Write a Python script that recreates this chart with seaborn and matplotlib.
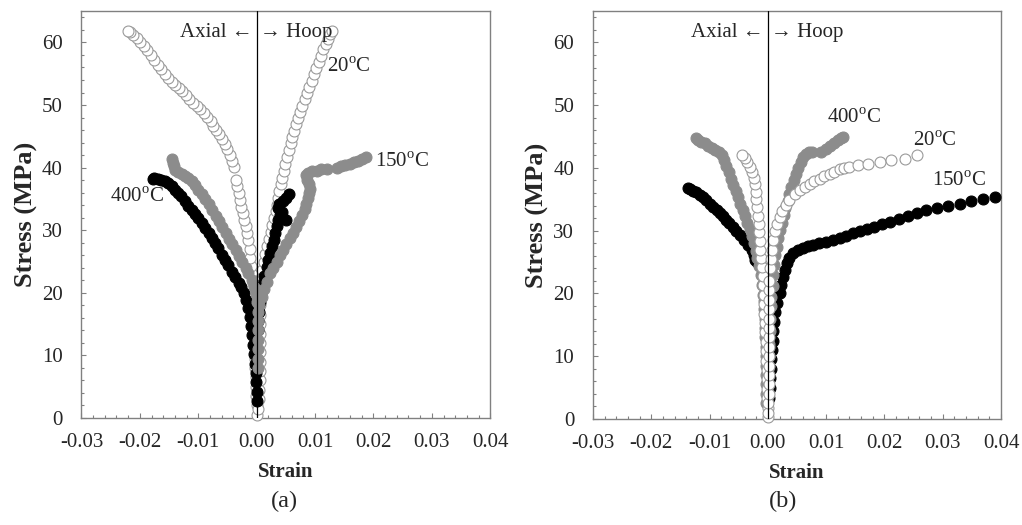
import pandas as pd
import seaborn as sns
import matplotlib.pyplot as plt
from matplotlib.ticker import MultipleLocator

# ---- panel (a) curves: (strain, stress MPa) ----
A20_AXIAL = [(0.0000, 0.5), (0.0000, 2.0), (-0.0001, 3.5), (-0.0001, 5.0), (-0.0001, 6.5), (-0.0002, 8.0),
             (-0.0002, 9.5), (-0.0002, 11.0), (-0.0003, 12.5), (-0.0003, 14.0), (-0.0004, 15.5), (-0.0004, 17.0),
             (-0.0005, 18.5), (-0.0006, 20.0), (-0.0007, 21.5), (-0.0008, 23.0), (-0.0009, 24.3), (-0.0011, 25.6),
             (-0.0012, 27.0), (-0.0014, 28.4), (-0.0016, 29.5), (-0.0018, 30.6), (-0.0021, 31.7), (-0.0023, 32.7),
             (-0.0026, 33.7), (-0.0028, 34.8), (-0.0030, 35.9), (-0.0033, 37.0), (-0.0035, 38.0), (-0.0039, 40.1),
             (-0.0042, 41.1), (-0.0046, 42.0), (-0.0050, 42.9), (-0.0054, 43.7), (-0.0059, 44.5), (-0.0064, 45.3),
             (-0.0069, 46.0), (-0.0074, 46.7), (-0.0079, 47.4), (-0.0085, 48.1), (-0.0091, 48.7), (-0.0097, 49.3),
             (-0.0103, 49.8), (-0.0109, 50.4), (-0.0115, 51.0), (-0.0121, 51.6), (-0.0127, 52.2), (-0.0133, 52.7),
             (-0.0139, 53.2), (-0.0145, 53.7), (-0.0151, 54.3), (-0.0157, 55.0), (-0.0163, 55.7), (-0.0169, 56.4),
             (-0.0175, 57.2), (-0.0181, 58.0), (-0.0187, 58.8), (-0.0193, 59.5), (-0.0199, 60.1), (-0.0205, 60.7),
             (-0.0211, 61.2), (-0.0217, 61.6), (-0.0220, 61.8)]
A20_HOOP = [(0.0003, 1.5), (0.0004, 3.0), (0.0004, 4.5), (0.0005, 6.0), (0.0005, 7.5), (0.0005, 9.0),
            (0.0005, 10.5), (0.0005, 12.0), (0.0005, 13.5), (0.0005, 15.0), (0.0005, 16.5), (0.0005, 18.0),
            (0.0006, 19.5), (0.0007, 21.0), (0.0008, 22.4), (0.0010, 23.7), (0.0012, 25.0), (0.0015, 26.2),
            (0.0018, 27.4), (0.0021, 28.6), (0.0024, 29.7), (0.0027, 30.8), (0.0030, 31.9), (0.0033, 33.0),
            (0.0035, 34.1), (0.0037, 35.2), (0.0039, 36.3), (0.0041, 37.4), (0.0043, 38.4), (0.0046, 39.5),
            (0.0049, 40.6), (0.0052, 41.7), (0.0055, 42.8), (0.0058, 43.9), (0.0061, 44.9), (0.0064, 45.9),
            (0.0067, 46.9), (0.0070, 47.9), (0.0074, 48.9), (0.0078, 49.9), (0.0082, 50.9), (0.0086, 51.9),
            (0.0090, 52.9), (0.0094, 53.9), (0.0098, 54.9), (0.0102, 55.9), (0.0106, 56.9), (0.0110, 57.9),
            (0.0114, 58.9), (0.0118, 59.8), (0.0122, 60.6), (0.0126, 61.3), (0.0129, 61.8)]
A150_AXIAL = [(0.0002, 8.0), (0.0002, 9.5), (0.0002, 11.0), (0.0002, 12.5), (0.0002, 14.0), (0.0002, 15.5),
              (0.0002, 17.0), (0.0001, 18.5), (-0.0001, 19.8), (-0.0004, 21.0), (-0.0008, 22.0), (-0.0014, 23.1),
              (-0.0019, 24.0), (-0.0025, 25.0), (-0.0030, 25.9), (-0.0036, 26.8), (-0.0042, 27.8), (-0.0047, 28.6),
              (-0.0053, 29.6), (-0.0059, 30.5), (-0.0065, 31.5), (-0.0070, 32.3), (-0.0076, 33.2), (-0.0082, 34.2),
              (-0.0088, 35.0), (-0.0094, 35.8), (-0.0100, 36.5), (-0.0105, 37.2), (-0.0111, 37.8), (-0.0117, 38.3),
              (-0.0122, 38.7), (-0.0128, 39.0), (-0.0134, 39.3), (-0.0139, 39.6), (-0.0142, 40.2), (-0.0144, 40.8),
              (-0.0145, 41.4)]
A150_HOOP = [(0.0004, 18.0), (0.0009, 19.3), (0.0013, 20.6), (0.0018, 21.8), (0.0023, 23.1), (0.0028, 24.0),
             (0.0034, 25.0), (0.0040, 26.0), (0.0045, 26.8), (0.0051, 27.8), (0.0057, 28.7), (0.0062, 29.6),
             (0.0068, 30.5), (0.0073, 31.5), (0.0078, 32.5), (0.0082, 33.4), (0.0085, 34.2), (0.0088, 35.1),
             (0.0090, 35.9), (0.0091, 36.6), (0.0089, 37.4), (0.0086, 38.1), (0.0084, 38.8), (0.0088, 39.2),
             (0.0095, 39.4), (0.0103, 39.5), (0.0111, 39.7), (0.0120, 39.8), (0.0138, 40.0), (0.0145, 40.2),
             (0.0152, 40.4), (0.0160, 40.6), (0.0167, 40.9), (0.0174, 41.1), (0.0181, 41.4), (0.0188, 41.7)]
A400_AXIAL = [(0.0000, 2.7), (0.0000, 4.2), (-0.0001, 5.7), (-0.0001, 7.2), (-0.0002, 8.7), (-0.0004, 10.2),
              (-0.0006, 11.7), (-0.0008, 13.2), (-0.0010, 14.7), (-0.0012, 16.2), (-0.0015, 17.6), (-0.0018, 18.9),
              (-0.0022, 20.0), (-0.0026, 20.9), (-0.0031, 21.6), (-0.0037, 22.5), (-0.0043, 23.4), (-0.0049, 24.4),
              (-0.0054, 25.2), (-0.0060, 26.1), (-0.0066, 27.1), (-0.0071, 27.9), (-0.0077, 28.8), (-0.0082, 29.5),
              (-0.0088, 30.3), (-0.0094, 31.1), (-0.0100, 31.9), (-0.0106, 32.6), (-0.0111, 33.2), (-0.0117, 33.9),
              (-0.0123, 34.7), (-0.0129, 35.4), (-0.0134, 35.9), (-0.0139, 36.4), (-0.0145, 37.0), (-0.0151, 37.5),
              (-0.0157, 37.9), (-0.0163, 38.1), (-0.0169, 38.2), (-0.0175, 38.3), (-0.0178, 38.2)]
A400_HOOP = [(0.0002, 14.0), (0.0003, 15.5), (0.0004, 17.0), (0.0005, 18.5), (0.0007, 20.0), (0.0010, 21.4),
             (0.0013, 22.7), (0.0017, 24.1), (0.0020, 25.2), (0.0023, 26.3), (0.0026, 27.4), (0.0029, 28.5),
             (0.0031, 29.6), (0.0034, 30.6), (0.0037, 31.6), (0.0040, 32.4), (0.0045, 31.9), (0.0050, 31.7),
             (0.0044, 32.9), (0.0037, 33.5), (0.0039, 34.2), (0.0045, 34.7), (0.0050, 35.2), (0.0055, 35.8)]

# ---- panel (b) curves ----
B20_AXIAL = [(0.0000, 0.3), (0.0000, 1.8), (-0.0001, 3.3), (-0.0001, 4.8), (-0.0002, 6.3), (-0.0002, 7.8),
             (-0.0003, 9.3), (-0.0003, 10.8), (-0.0004, 12.3), (-0.0005, 13.8), (-0.0005, 15.3), (-0.0006, 16.8),
             (-0.0007, 18.3), (-0.0007, 19.8), (-0.0008, 21.3), (-0.0009, 22.8), (-0.0010, 24.2), (-0.0012, 25.6),
             (-0.0013, 27.0), (-0.0014, 28.4), (-0.0015, 29.8), (-0.0016, 31.1), (-0.0017, 32.4), (-0.0019, 33.7),
             (-0.0020, 35.0), (-0.0021, 36.2), (-0.0022, 37.4), (-0.0024, 38.4), (-0.0027, 39.3), (-0.0031, 40.2),
             (-0.0035, 41.0), (-0.0040, 41.6), (-0.0045, 42.0)]
B20_HOOP = [(0.0001, 1.0), (0.0001, 2.5), (0.0002, 4.0), (0.0002, 5.5), (0.0002, 7.0), (0.0002, 8.5),
            (0.0002, 10.0), (0.0002, 11.5), (0.0002, 13.0), (0.0002, 14.5), (0.0002, 16.0), (0.0002, 17.5),
            (0.0002, 19.0), (0.0002, 20.5), (0.0002, 22.0), (0.0003, 24.0), (0.0005, 25.5), (0.0007, 27.0),
            (0.0009, 28.5), (0.0012, 29.9), (0.0016, 31.1), (0.0020, 32.2), (0.0025, 33.2), (0.0031, 34.1),
            (0.0037, 34.9), (0.0046, 35.8), (0.0055, 36.5), (0.0063, 37.0), (0.0072, 37.5), (0.0080, 37.9),
            (0.0089, 38.3), (0.0097, 38.7), (0.0106, 39.1), (0.0114, 39.4), (0.0123, 39.8), (0.0131, 40.0),
            (0.0140, 40.2), (0.0155, 40.4), (0.0172, 40.7), (0.0192, 41.0), (0.0212, 41.2), (0.0235, 41.5),
            (0.0255, 42.0)]
B150_AXIAL = [(0.0000, 3.3), (0.0000, 4.8), (0.0000, 6.3), (0.0000, 7.8), (0.0000, 9.3), (0.0000, 10.8),
              (0.0000, 12.3), (0.0000, 13.8), (0.0000, 15.3), (-0.0001, 16.8), (-0.0001, 18.3), (-0.0002, 19.8),
              (-0.0004, 21.3), (-0.0006, 22.8), (-0.0009, 24.1), (-0.0014, 24.6), (-0.0019, 25.0), (-0.0022, 25.4),
              (-0.0024, 26.2), (-0.0028, 27.0), (-0.0034, 27.7), (-0.0041, 28.5), (-0.0048, 29.3), (-0.0054, 30.0),
              (-0.0060, 30.6), (-0.0066, 31.2), (-0.0071, 31.7), (-0.0077, 32.3), (-0.0082, 32.8), (-0.0088, 33.3),
              (-0.0094, 33.8), (-0.0100, 34.3), (-0.0106, 34.9), (-0.0112, 35.4), (-0.0117, 35.7), (-0.0123, 36.1),
              (-0.0128, 36.4), (-0.0133, 36.6), (-0.0137, 36.8)]
B150_HOOP = [(0.0002, 3.3), (0.0003, 5.0), (0.0004, 6.5), (0.0005, 8.0), (0.0006, 9.5), (0.0007, 11.0),
             (0.0008, 12.5), (0.0009, 14.0), (0.0010, 15.5), (0.0012, 17.0), (0.0015, 18.5), (0.0020, 20.0),
             (0.0023, 21.4), (0.0026, 22.7), (0.0029, 23.8), (0.0032, 24.8), (0.0037, 25.7), (0.0043, 26.4),
             (0.0051, 26.9), (0.0060, 27.2), (0.0068, 27.5), (0.0077, 27.7), (0.0088, 28.0), (0.0100, 28.2),
             (0.0111, 28.5), (0.0123, 28.8), (0.0134, 29.2), (0.0146, 29.6), (0.0158, 30.0), (0.0170, 30.3),
             (0.0182, 30.6), (0.0196, 31.0), (0.0210, 31.4), (0.0225, 31.9), (0.0240, 32.4), (0.0255, 32.9),
             (0.0272, 33.3), (0.0290, 33.6), (0.0309, 34.0), (0.0329, 34.3), (0.0349, 34.7), (0.0369, 35.1),
             (0.0390, 35.4)]
B400_AXIAL = [(-0.0004, 2.5), (-0.0004, 4.0), (-0.0004, 5.5), (-0.0004, 7.0), (-0.0004, 8.5), (-0.0004, 10.0),
              (-0.0004, 11.5), (-0.0005, 13.0), (-0.0005, 14.5), (-0.0005, 16.0), (-0.0006, 17.5), (-0.0007, 18.8),
              (-0.0008, 19.8), (-0.0010, 21.3), (-0.0012, 22.9), (-0.0015, 24.3), (-0.0018, 25.6), (-0.0021, 26.8),
              (-0.0024, 28.0), (-0.0028, 29.2), (-0.0031, 30.2), (-0.0035, 31.3), (-0.0039, 32.3), (-0.0043, 33.3),
              (-0.0047, 34.3), (-0.0051, 35.3), (-0.0055, 36.3), (-0.0059, 37.3), (-0.0063, 38.3), (-0.0067, 39.3),
              (-0.0071, 40.3), (-0.0075, 41.3), (-0.0079, 42.1), (-0.0084, 42.6), (-0.0090, 42.8), (-0.0096, 43.1),
              (-0.0102, 43.5), (-0.0108, 43.9), (-0.0114, 44.2), (-0.0119, 44.5), (-0.0123, 44.7)]
B400_HOOP = [(0.0001, 8.0), (0.0002, 10.0), (0.0002, 12.0), (0.0003, 14.0), (0.0004, 16.0), (0.0005, 18.0),
             (0.0006, 19.5), (0.0008, 21.2), (0.0009, 23.0), (0.0011, 24.6), (0.0013, 26.1), (0.0015, 27.4),
             (0.0018, 28.8), (0.0021, 30.1), (0.0024, 31.3), (0.0027, 32.5), (0.0030, 33.6), (0.0034, 34.7),
             (0.0037, 35.8), (0.0040, 36.9), (0.0044, 38.0), (0.0048, 39.0), (0.0052, 40.0), (0.0056, 40.9),
             (0.0060, 41.7), (0.0065, 42.3), (0.0070, 42.5), (0.0075, 42.6), (0.0092, 42.6), (0.0099, 43.0),
             (0.0106, 43.5), (0.0113, 44.0), (0.0120, 44.4), (0.0126, 44.8), (0.0129, 45.0)]

XTICKS = [-0.03, -0.02, -0.01, 0.0, 0.01, 0.02, 0.03, 0.04]
XTICK_LABELS = ['-0.03', '-0.02', '-0.01', '0.00', '0.01', '0.02', '0.03', '0.04']
YTICKS = [0, 10, 20, 30, 40, 50, 60]

# curve labels: (text, strain, stress)
A_LABELS = [('20', 0.0120, 56.0), ('150', 0.0202, 40.8), ('400', -0.0251, 35.2)]
B_LABELS = [('400', 0.0101, 47.9), ('20', 0.0249, 44.2), ('150', 0.0281, 37.8)]


def to_frame(curves):
    rows = []
    for temp, pts in curves.items():
        for s, p in pts:
            rows.append({'temp': temp, 'strain': s, 'stress': p})
    return pd.DataFrame(rows)


df_a = to_frame({'20': A20_AXIAL + A20_HOOP, '150': A150_AXIAL + A150_HOOP, '400': A400_AXIAL + A400_HOOP})
df_b = to_frame({'20': B20_AXIAL + B20_HOOP, '150': B150_AXIAL + B150_HOOP, '400': B400_AXIAL + B400_HOOP})

sns.set_style('white')
plt.rcParams['font.family'] = ['Liberation Serif', 'DejaVu Serif']
plt.rcParams['mathtext.fontset'] = 'custom'
plt.rcParams['mathtext.rm'] = 'Liberation Serif'
plt.rcParams['axes.unicode_minus'] = False

WHITE = ('white', '#9a9a9a')
GRAY = ('#8c8c8c', '#8c8c8c')
BLACK = ('black', 'black')
SPINE = '#808080'
FS = 15


def draw_panel(ax, df, colors, order, labels):
    for temp in order:
        face, edge = colors[temp]
        sns.scatterplot(data=df[df['temp'] == temp], x='strain', y='stress', color=face,
                        edgecolor=edge, linewidth=0.8, s=62, ax=ax, legend=False,
                        zorder=3, clip_on=False)
    ax.axvline(0, color='black', lw=0.9, zorder=5)
    ax.set_xlim(-0.03, 0.04)
    ax.set_ylim(0, 65)
    ax.set_xticks(XTICKS)
    ax.set_xticklabels(XTICK_LABELS)
    ax.set_yticks(YTICKS)
    ax.xaxis.set_minor_locator(MultipleLocator(0.002))
    ax.yaxis.set_minor_locator(MultipleLocator(2))
    ax.tick_params(which='both', direction='in', color=SPINE, labelsize=FS,
                   bottom=True, left=True, top=False, right=False)
    ax.tick_params(axis='x', which='both', pad=11)
    ax.tick_params(axis='y', which='both', pad=13.5)
    ax.tick_params(which='major', length=3.5, width=0.8)
    ax.tick_params(which='minor', length=2.5, width=0.8)
    for sp in ax.spines.values():
        sp.set_color(SPINE)
        sp.set_linewidth(1.0)
    ax.set_xlabel('Strain', fontweight='bold', fontsize=FS, labelpad=7)
    ax.set_ylabel('Stress (MPa)', fontweight='bold', fontsize=19, labelpad=3)
    ax.text(-0.0007, 61.6, 'Axial \u2190', ha='right', va='center', fontsize=FS)
    ax.text(0.0006, 61.6, '\u2192 Hoop', ha='left', va='center', fontsize=FS)
    for t, x, y in labels:
        ax.text(x, y, t + r'$^{\mathrm{o}}$C', ha='left', va='center', fontsize=FS)


fig = plt.figure(figsize=(10.22, 5.25), dpi=100)
ax_a = fig.add_axes([0.0797, 0.2038, 0.4, 0.775])
ax_b = fig.add_axes([0.5802, 0.2019, 0.3993, 0.7771])

draw_panel(ax_a, df_a, {'20': WHITE, '150': GRAY, '400': BLACK}, ['20', '400', '150'], A_LABELS)
draw_panel(ax_b, df_b, {'20': WHITE, '150': BLACK, '400': GRAY}, ['150', '400', '20'], B_LABELS)

fig.text(0.278, 0.045, '(a)', ha='center', va='center', fontsize=17.5)
fig.text(0.766, 0.045, '(b)', ha='center', va='center', fontsize=17.5)

fig.savefig('out.png', dpi=100)
